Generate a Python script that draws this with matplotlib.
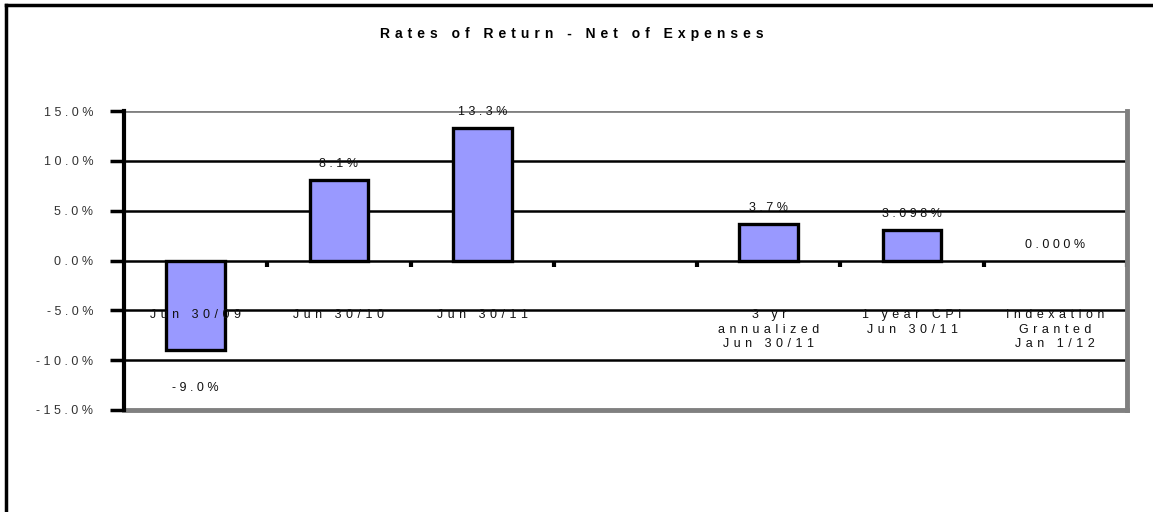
import matplotlib
matplotlib.use('Agg')
import matplotlib.pyplot as plt
from matplotlib.lines import Line2D
from matplotlib.transforms import offset_copy

# ---- data ----
categories = ['Jun 30/09', 'Jun 30/10', 'Jun 30/11', '',
              '3 yr\nannualized\nJun 30/11', '1 year CPI\nJun 30/11',
              'Indexation\nGranted\nJan 1/12']
values = [-9.0, 8.1, 13.3, None, 3.7, 3.098, 0.000]
value_decimals = [1, 1, 1, None, 1, 3, 3]
y_ticks = [15, 10, 5, 0, -5, -10, -15]
y_tick_labels = ['15.0%', '10.0%', '5.0%', '0.0%', '-5.0%', '-10.0%', '-15.0%']
title = 'Rates of Return - Net of Expenses'

FONT = 'Liberation Sans'
W, H = 1153, 512


def spaced(text, sep=' '):
    """Letter-spaced text, line by line."""
    return '\n'.join(sep.join(line) for line in text.split('\n'))


plt.rcParams['font.family'] = [FONT, 'DejaVu Sans']

fig = plt.figure(figsize=(W / 100, H / 100), dpi=100)
ax = fig.add_axes([124 / W, 1 - 410 / H, (1127 - 124) / W, (410 - 111) / H])

n = len(categories)
xs = list(range(n))

# bars (a zero value leaves nothing to draw)
for x, v in zip(xs, values):
    if v is None or v == 0:
        continue
    ax.bar(x, v, width=0.41, color='#9999FF', edgecolor='black',
           linewidth=2.4, zorder=3)

# value labels
for x, v, d in zip(xs, values, value_decimals):
    if v is None:
        continue
    txt = spaced(f'{v:.{d}f}%')
    dy = -38 if v < 0 else 16
    tr = offset_copy(ax.transData, fig=fig, x=0, y=dy, units='dots')
    ax.text(x, v, txt, transform=tr, ha='center', va='center',
            fontsize=9, color='#111111', zorder=5)

ax.set_xlim(-0.5, n - 0.5)
ax.set_ylim(-15, 15)

# horizontal gridlines
for yt in y_ticks:
    if yt in (15, -15):
        continue
    ax.axhline(yt, color='black', lw=1.8, zorder=1)
ax.axhline(15, color='#808080', lw=2.0, zorder=1)

# y axis
ax.set_yticks(y_ticks)
ax.set_yticklabels([spaced(t) for t in y_tick_labels], fontsize=9,
                   color='#333333')
ax.tick_params(axis='y', direction='out', length=10, width=2.5,
               color='black', pad=12)

# x axis ticks sit on the zero line, between categories
ax.spines['bottom'].set_position(('data', 0))
ax.spines['bottom'].set_visible(False)
ax.set_xticks([i + 0.5 for i in range(n)])
ax.set_xticklabels([''] * n)
ax.tick_params(axis='x', direction='out', length=4, width=3, color='black')

ax.spines['left'].set_linewidth(3)
ax.spines['left'].set_color('black')
ax.spines['top'].set_visible(False)
ax.spines['right'].set_linewidth(3.5)
ax.spines['right'].set_color('#808080')
ax.axhline(-15, color='#808080', lw=3.5, zorder=2, clip_on=False)

# category labels
for x, c in zip(xs, categories):
    if not c:
        continue
    ax.text(x, -4.9, spaced(c, ' \u200a'), ha='center', va='top',
            fontsize=9, color='#111111', linespacing=1.25, zorder=5)

# title
fig.text(572 / W, 1 - 34 / H, spaced(title, ' \u200a'), ha='center',
         va='center', fontsize=10, fontweight='bold', color='black')

# outer frame (top and left edges)
fig.add_artist(Line2D([6 / W, 1.0], [1 - 5 / H, 1 - 5 / H],
                      color='black', lw=2.5, transform=fig.transFigure))
fig.add_artist(Line2D([6 / W, 6 / W], [0, 1 - 5 / H],
                      color='black', lw=2.5, transform=fig.transFigure))

fig.savefig('out.png', dpi=100)
